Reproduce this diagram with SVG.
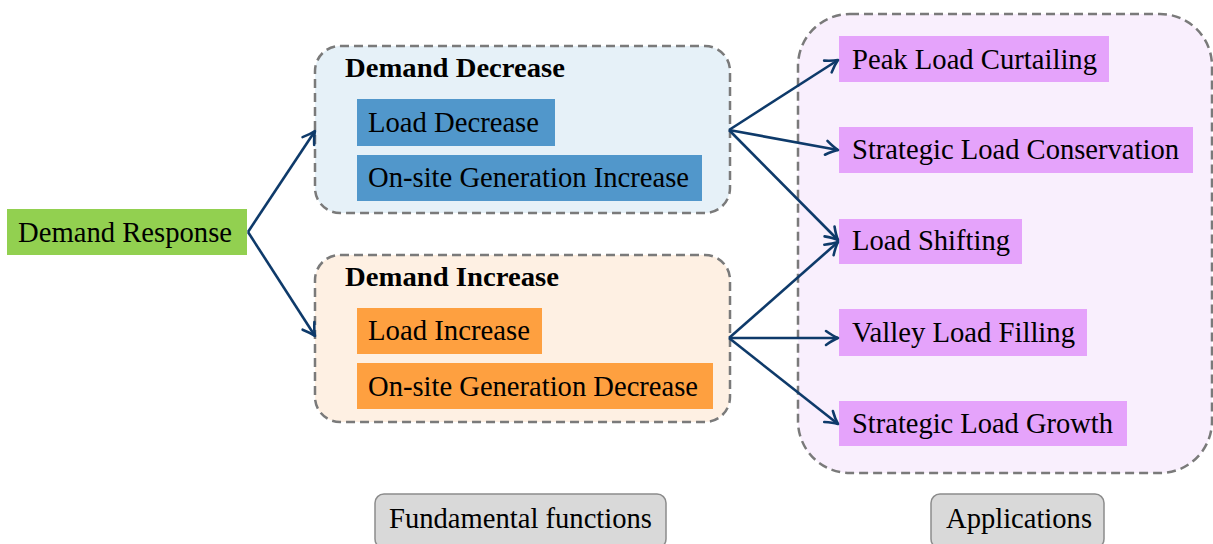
<svg xmlns="http://www.w3.org/2000/svg" width="1213" height="544" viewBox="0 0 1213 544">
<style>
text{font-family:"Liberation Serif","Times New Roman",serif;font-size:29px;fill:#000}
.title{font-weight:bold;font-size:28px}
.grp{stroke:#7a7a7a;stroke-width:2.5;stroke-dasharray:9 5}
.lbl{fill:#d9d9d9;stroke:#8c8c8c;stroke-width:1.5}
.conn{fill:none;stroke:#0e3a6a;stroke-width:2.6}
.blue{fill:#5197cb}
.orange{fill:#fea040}
.pink{fill:#e5a3fb}
</style>
<defs>
<marker id="ah" markerUnits="userSpaceOnUse" markerWidth="20" markerHeight="20" viewBox="-14 -10 18 20" refX="0" refY="0" orient="auto">
<path d="M-12,-7 Q-5,-2 0,0 Q-5,2 -12,7" fill="none" stroke="#0e3a6a" stroke-width="2.6" stroke-linecap="round" stroke-linejoin="round"/>
</marker>
</defs>
<rect width="1213" height="544" fill="#fff"/>
<g id="applications-group">
<rect x="798" y="14" width="414" height="459" rx="52" fill="#f9effd" class="grp"/>
</g>
<g id="demand-decrease">
<rect x="315" y="46" width="415" height="167" rx="25" fill="#e6f1f8" class="grp"/>
<text x="345" y="77" class="title" textLength="220" lengthAdjust="spacingAndGlyphs">Demand Decrease</text>
<g id="load-decrease"><rect x="357" y="99" width="198" height="47" class="blue"/><text x="368" y="132" textLength="171" lengthAdjust="spacingAndGlyphs">Load Decrease</text></g>
<g id="onsite-gen-increase"><rect x="357" y="155" width="345" height="46" class="blue"/><text x="368" y="187" textLength="321" lengthAdjust="spacingAndGlyphs">On-site Generation Increase</text></g>
</g>
<g id="demand-increase">
<rect x="315" y="255" width="415" height="167" rx="25" fill="#fef0e3" class="grp"/>
<text x="345" y="286" class="title" textLength="214" lengthAdjust="spacingAndGlyphs">Demand Increase</text>
<g id="load-increase"><rect x="357" y="308" width="185" height="46" class="orange"/><text x="368" y="340" textLength="162" lengthAdjust="spacingAndGlyphs">Load Increase</text></g>
<g id="onsite-gen-decrease"><rect x="357" y="363" width="356" height="46" class="orange"/><text x="368" y="396" textLength="330" lengthAdjust="spacingAndGlyphs">On-site Generation Decrease</text></g>
</g>
<g id="demand-response">
<rect x="7" y="209" width="240" height="46" fill="#92d050"/>
<text x="18" y="242" textLength="214" lengthAdjust="spacingAndGlyphs">Demand Response</text>
</g>
<g id="peak-load-curtailing"><rect x="839" y="36" width="270" height="46" class="pink"/><text x="852" y="69" textLength="245" lengthAdjust="spacingAndGlyphs">Peak Load Curtailing</text></g>
<g id="strategic-load-conservation"><rect x="839" y="127" width="354" height="46" class="pink"/><text x="852" y="159" textLength="327" lengthAdjust="spacingAndGlyphs">Strategic Load Conservation</text></g>
<g id="load-shifting"><rect x="839" y="219" width="183" height="45" class="pink"/><text x="852" y="250" textLength="158" lengthAdjust="spacingAndGlyphs">Load Shifting</text></g>
<g id="valley-load-filling"><rect x="839" y="309" width="248" height="47" class="pink"/><text x="852" y="342" textLength="223" lengthAdjust="spacingAndGlyphs">Valley Load Filling</text></g>
<g id="strategic-load-growth"><rect x="839" y="401" width="288" height="45" class="pink"/><text x="852" y="433" textLength="261" lengthAdjust="spacingAndGlyphs">Strategic Load Growth</text></g>
<g id="label-fundamental"><rect x="375" y="494" width="291" height="54" rx="9" class="lbl"/><text x="389" y="528" textLength="263" lengthAdjust="spacingAndGlyphs">Fundamental functions</text></g>
<g id="label-applications"><rect x="931" y="494" width="173" height="54" rx="9" class="lbl"/><text x="946" y="528" textLength="146" lengthAdjust="spacingAndGlyphs">Applications</text></g>
<g id="connectors">
<path class="conn" d="M248,232 L315,131" marker-end="url(#ah)"/>
<path class="conn" d="M248,232 L315,336" marker-end="url(#ah)"/>
<path class="conn" d="M729,130 L838,60" marker-end="url(#ah)"/>
<path class="conn" d="M729,130 L838,150" marker-end="url(#ah)"/>
<path class="conn" d="M729,130 L838,240" marker-end="url(#ah)"/>
<path class="conn" d="M729,338 L838,242" marker-end="url(#ah)"/>
<path class="conn" d="M729,338 L838,338" marker-end="url(#ah)"/>
<path class="conn" d="M729,338 L838,424" marker-end="url(#ah)"/>
</g>
</svg>
